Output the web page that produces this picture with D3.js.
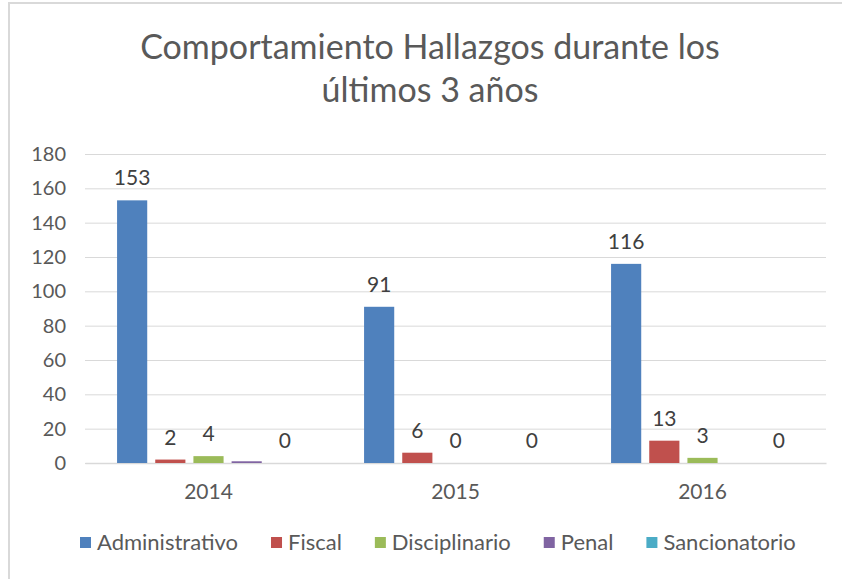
<!DOCTYPE html>
<html>
<head>
<meta charset="utf-8">
<script src="https://cdn.jsdelivr.net/npm/d3@7"></script>
<style>
  body { margin: 0; background: #fff; }
  svg { display: block; font-family: Lato, "Open Sans", sans-serif; }
</style>
</head>
<body>
<div id="chart"></div>
<script>
// data
var years = ["2014", "2015", "2016"];
var series = ["Administrativo", "Fiscal", "Disciplinario", "Penal", "Sancionatorio"];
var administrativo = [153, 91, 116];
var fiscal = [2, 6, 13];
var disciplinario = [4, 0, 3];
var penal = [1, 0, 0];
var sancionatorio = [0, 0, 0];
var showLabel = [true, true, true, false, true];
var colors = ["#4F81BD", "#C0504D", "#9BBB59", "#8064A2", "#4BACC6"];
var yTicks = [0, 20, 40, 60, 80, 100, 120, 140, 160, 180];
var titleLines = ["Comportamiento Hallazgos durante los", "últimos 3 años"];

var values = [administrativo, fiscal, disciplinario, penal, sancionatorio];

var width = 842, height = 579;
var plot = {left: 85, right: 826, top: 154, bottom: 463};

var svg = d3.select("#chart").append("svg")
    .attr("width", width)
    .attr("height", height);

// chart frame
svg.append("rect")
    .attr("x", 9).attr("y", 3)
    .attr("width", 900).attr("height", 700)
    .attr("fill", "#fff")
    .attr("stroke", "#d9d9d9")
    .attr("stroke-width", 2);

// title
var title = svg.append("g").attr("class", "title");
title.selectAll("text")
  .data(titleLines)
  .enter().append("text")
    .attr("x", 430)
    .attr("y", function(d, i) { return 59 + i * 43; })
    .attr("text-anchor", "middle")
    .attr("fill", "#595959")
    .attr("font-size", "34px")
    .text(function(d) { return d; });

var x0 = d3.scaleBand()
    .domain(years)
    .range([plot.left, plot.right]);

var x1 = d3.scaleBand()
    .domain(series)
    .range([0, x0.bandwidth()])
    .paddingInner(0.21)
    .paddingOuter(0.84);

var y = d3.scaleLinear()
    .domain([0, 180])
    .range([plot.bottom, plot.top]);

// gridlines + y labels
var yAxis = svg.append("g")
    .attr("transform", "translate(" + plot.left + ",0)")
    .call(d3.axisLeft(y).tickValues(yTicks).tickSize(-(plot.right - plot.left)).tickPadding(19));
yAxis.select(".domain").remove();
yAxis.selectAll(".tick line").attr("stroke", "#d9d9d9").attr("stroke-width", 1);
yAxis.selectAll(".tick text")
    .attr("fill", "#595959")
    .attr("font-size", "20px")
    .attr("font-family", "Lato, sans-serif");

// x axis
var xAxis = svg.append("g")
    .attr("transform", "translate(0," + plot.bottom + ")")
    .call(d3.axisBottom(x0).tickSize(0).tickPadding(21));
xAxis.select(".domain").attr("stroke", "#d9d9d9").attr("stroke-width", 1.5);
xAxis.selectAll(".tick text")
    .attr("fill", "#595959")
    .attr("font-size", "21px")
    .attr("font-family", "Lato, sans-serif");

// bars
var rows = [];
years.forEach(function(yr, i) {
  series.forEach(function(s, j) {
    rows.push({year: yr, series: s, idx: j, value: values[j][i]});
  });
});

svg.append("g").selectAll(".bar")
  .data(rows)
  .enter().append("rect")
    .attr("class", "bar")
    .attr("x", function(d) { return x0(d.year) + x1(d.series); })
    .attr("y", function(d) { return y(d.value); })
    .attr("width", x1.bandwidth())
    .attr("height", function(d) { return y(0) - y(d.value); })
    .attr("fill", function(d) { return colors[d.idx]; });

svg.append("g").selectAll(".lbl")
  .data(rows.filter(function(d) { return showLabel[d.idx]; }))
  .enter().append("text")
    .attr("class", "lbl")
    .attr("x", function(d) { return x0(d.year) + x1(d.series) + x1.bandwidth() / 2; })
    .attr("y", function(d) { return y(d.value) - 15; })
    .attr("text-anchor", "middle")
    .attr("fill", "#404040")
    .attr("font-size", "21px")
    .text(function(d) { return d.value; });

// legend
var legend = svg.append("g").attr("class", "legend");
var lx = 80;
series.forEach(function(s, j) {
  var item = legend.append("g").attr("transform", "translate(" + lx + ",0)");
  item.append("rect")
      .attr("x", 0).attr("y", 537)
      .attr("width", 11).attr("height", 11)
      .attr("fill", colors[j]);
  var t = item.append("text")
      .attr("x", 17).attr("y", 550)
      .attr("fill", "#595959")
      .attr("font-size", "22px")
      .text(s);
  lx += 17 + t.node().getComputedTextLength() + 33;
});
</script>
</body>
</html>
